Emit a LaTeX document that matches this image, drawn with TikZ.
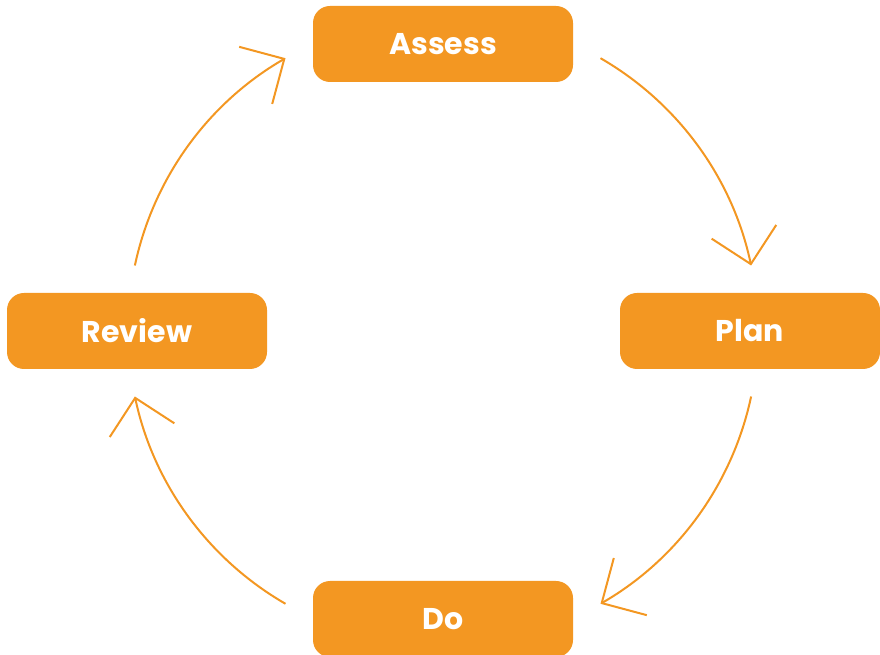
\documentclass[tikz,border=0pt]{standalone}
\usepackage{fontspec}
\setsansfont{Poppins}
\usetikzlibrary{arrows.meta}
\definecolor{cycorange}{RGB}{243,151,34}
\begin{document}
\begin{tikzpicture}[x=1pt,y=1pt]
       \tikzset{>={Straight Barb[length=33pt,width=66pt]}}
       \tikzset{stage/.style={fill=cycorange, rounded corners=17pt, inner sep=0pt,
           minimum width=260pt, minimum height=76pt, text=white,
           font=\sffamily\bfseries\fontsize{30}{35}\selectfont}}
       \tikzset{flow/.style={draw=cycorange, line width=2pt, ->}}
       \useasboundingbox (0,0) rectangle (880,655);
       \node[stage] (assess) at (443,611) {Assess};
       \node[stage] (plan) at (750,324) {Plan};
       \node[stage] (do) at (443,36) {Do};
       \node[stage] (review) at (137,324) {Review};
       % points on the cycle circle
       \coordinate (c) at (443,324);
       \path (c) ++(60:315) coordinate (a1)  (c) ++(12:315) coordinate (p1)
             (c) ++(-12:315) coordinate (p2) (c) ++(-60:315) coordinate (d1)
             (c) ++(-120:315) coordinate (d2) (c) ++(-168:315) coordinate (r1)
             (c) ++(168:315) coordinate (r2) (c) ++(120:315) coordinate (a2);
       \draw[flow] (a1) to[bend left=24, looseness=0.89] (p1);
       \draw[flow] (p2) to[bend left=24, looseness=0.89] (d1);
       \draw[flow] (d2) to[bend left=24, looseness=0.89] (r1);
       \draw[flow] (r2) to[bend left=24, looseness=0.89] (a2);
   \end{tikzpicture}
\end{document}
